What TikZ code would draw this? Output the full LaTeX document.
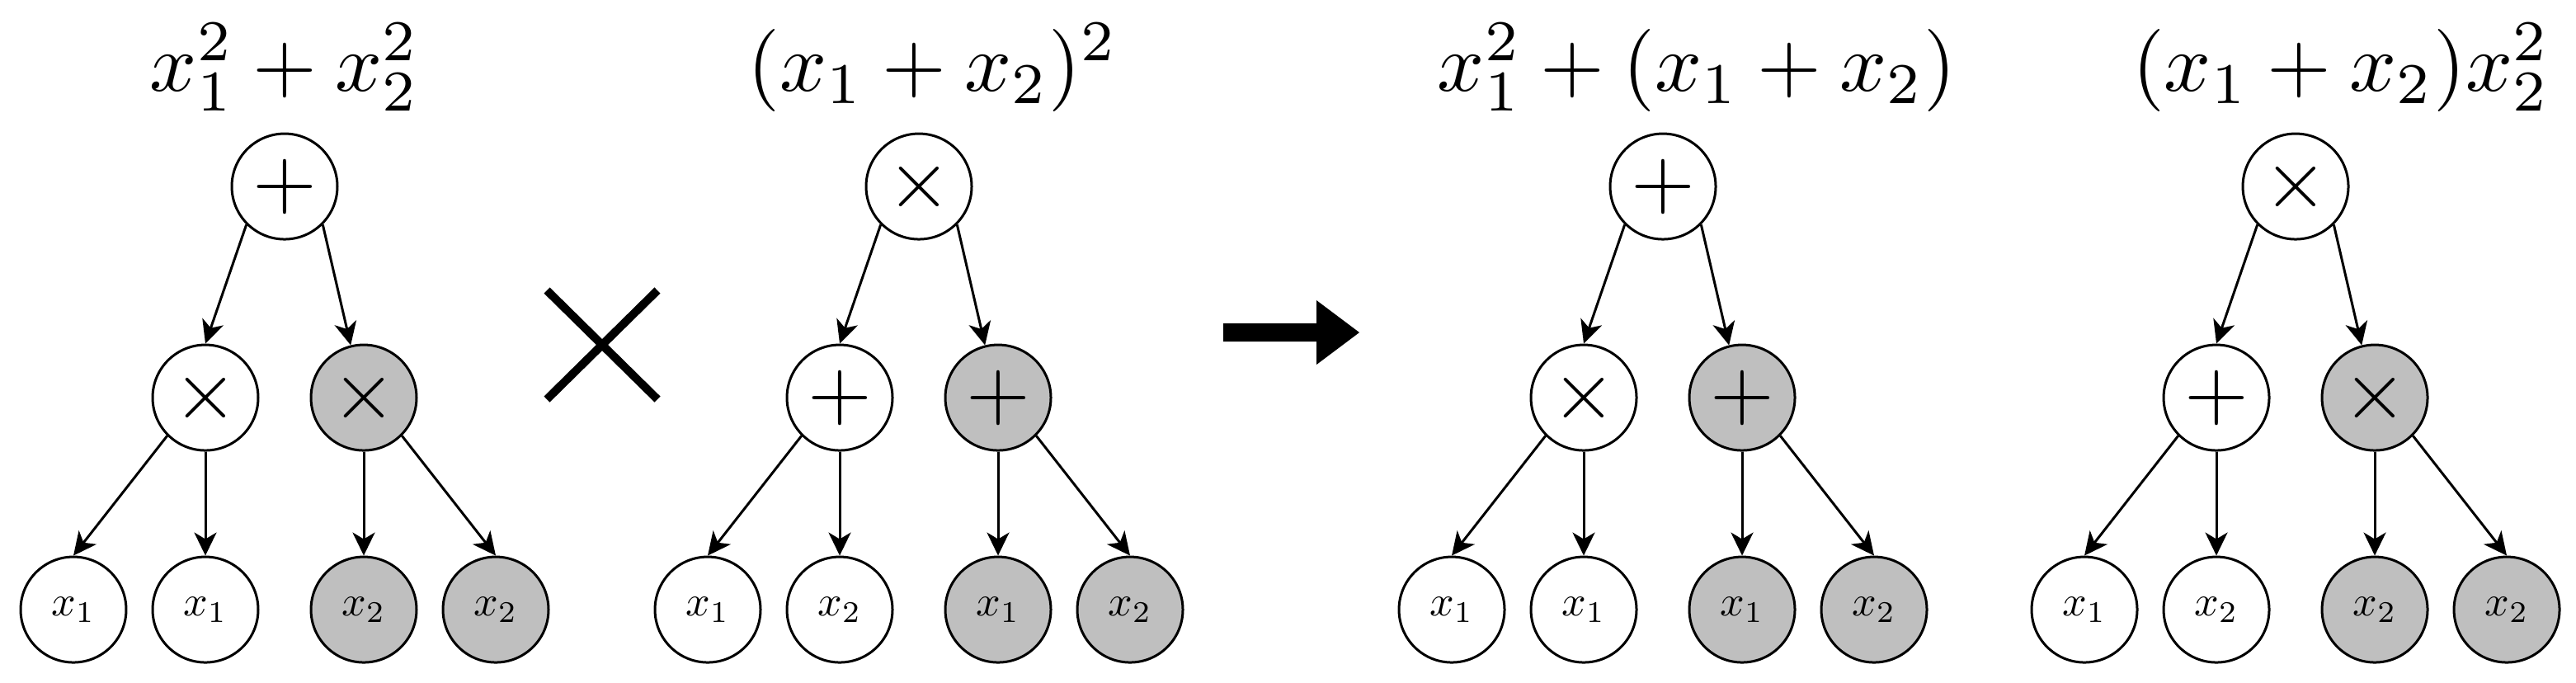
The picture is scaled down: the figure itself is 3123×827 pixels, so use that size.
\documentclass[tikz,border=0pt]{standalone}
\usetikzlibrary{arrows.meta}
\newcommand{\leaftext}[1]{\scalebox{0.52}{$#1$}}
\begin{document}
\begin{tikzpicture}[x=0.1pt,y=-0.1pt,
  opnode/.style={circle,draw,line width=0.3pt,minimum size=12.8pt,inner sep=0pt,font=\fontsize{10}{12}\selectfont},
  leaf/.style={circle,draw,line width=0.3pt,minimum size=12.8pt,inner sep=0pt,font=\fontsize{10}{12}\selectfont},
  shaded/.style={fill=black!25},
  edge/.style={line width=0.3pt,-{Stealth[length=2.8pt,width=2.7pt,inset=0.8pt]}},
  title/.style={anchor=base,inner sep=0pt,font=\fontsize{10}{12}\selectfont}]
\useasboundingbox (0,0) rectangle (3123,827);
% tree 1
\node[title] (t1) at (345,110) {$x_1^2+x_2^2$};
\node[opnode] (r1) at (345,226) {$+$};
\node[opnode] (a1) at (249,482) {$\times$};
\node[opnode,shaded] (b1) at (441,482) {$\times$};
\node[leaf] (l11) at (89,739) {\leaftext{x_1}};
\node[leaf] (l12) at (249,739) {\leaftext{x_1}};
\node[leaf,shaded] (l13) at (441,739) {\leaftext{x_2}};
\node[leaf,shaded] (l14) at (601,739) {\leaftext{x_2}};
% tree 2
\node[title] (t2) at (1131,110) {$(x_1+x_2)^2$};
\node[opnode] (r2) at (1114,226) {$\times$};
\node[opnode] (a2) at (1018,482) {$+$};
\node[opnode,shaded] (b2) at (1210,482) {$+$};
\node[leaf] (l21) at (858,739) {\leaftext{x_1}};
\node[leaf] (l22) at (1018,739) {\leaftext{x_2}};
\node[leaf,shaded] (l23) at (1210,739) {\leaftext{x_1}};
\node[leaf,shaded] (l24) at (1370,739) {\leaftext{x_2}};
% tree 3
\node[title] (t3) at (2057,110) {$x_1^2+(x_1+x_2)$};
\node[opnode] (r3) at (2016,226) {$+$};
\node[opnode] (a3) at (1920,482) {$\times$};
\node[opnode,shaded] (b3) at (2112,482) {$+$};
\node[leaf] (l31) at (1760,739) {\leaftext{x_1}};
\node[leaf] (l32) at (1920,739) {\leaftext{x_1}};
\node[leaf,shaded] (l33) at (2112,739) {\leaftext{x_1}};
\node[leaf,shaded] (l34) at (2272,739) {\leaftext{x_2}};
% tree 4
\node[title] (t4) at (2838,110) {$(x_1+x_2)x_2^2$};
\node[opnode] (r4) at (2783,226) {$\times$};
\node[opnode] (a4) at (2687,482) {$+$};
\node[opnode,shaded] (b4) at (2879,482) {$\times$};
\node[leaf] (l41) at (2527,739) {\leaftext{x_1}};
\node[leaf] (l42) at (2687,739) {\leaftext{x_2}};
\node[leaf,shaded] (l43) at (2879,739) {\leaftext{x_2}};
\node[leaf,shaded] (l44) at (3039,739) {\leaftext{x_2}};
% edges
\foreach \i in {1,2,3,4}{
  \draw[edge] (r\i.south west) -- (a\i.north);
  \draw[edge] (r\i.south east) -- (b\i.104);
  \draw[edge] (a\i.south west) -- (l\i1.north);
  \draw[edge] (a\i.south) -- (l\i2.north);
  \draw[edge] (b\i.south) -- (l\i3.north);
  \draw[edge] (b\i.south east) -- (l\i4.north);
}
% big cross
\coordinate (c1) at (663,352);
\coordinate (c2) at (797,484);
\coordinate (c3) at (663,484);
\coordinate (c4) at (797,352);
\draw[line width=1pt] (c1) -- (c2);
\draw[line width=1pt] (c3) -- (c4);
% big arrow
\fill (1483,392) -- (1596,392) -- (1596,364) -- (1648,403) -- (1596,442) -- (1596,414) -- (1483,414) -- cycle;
\end{tikzpicture}
\end{document}
